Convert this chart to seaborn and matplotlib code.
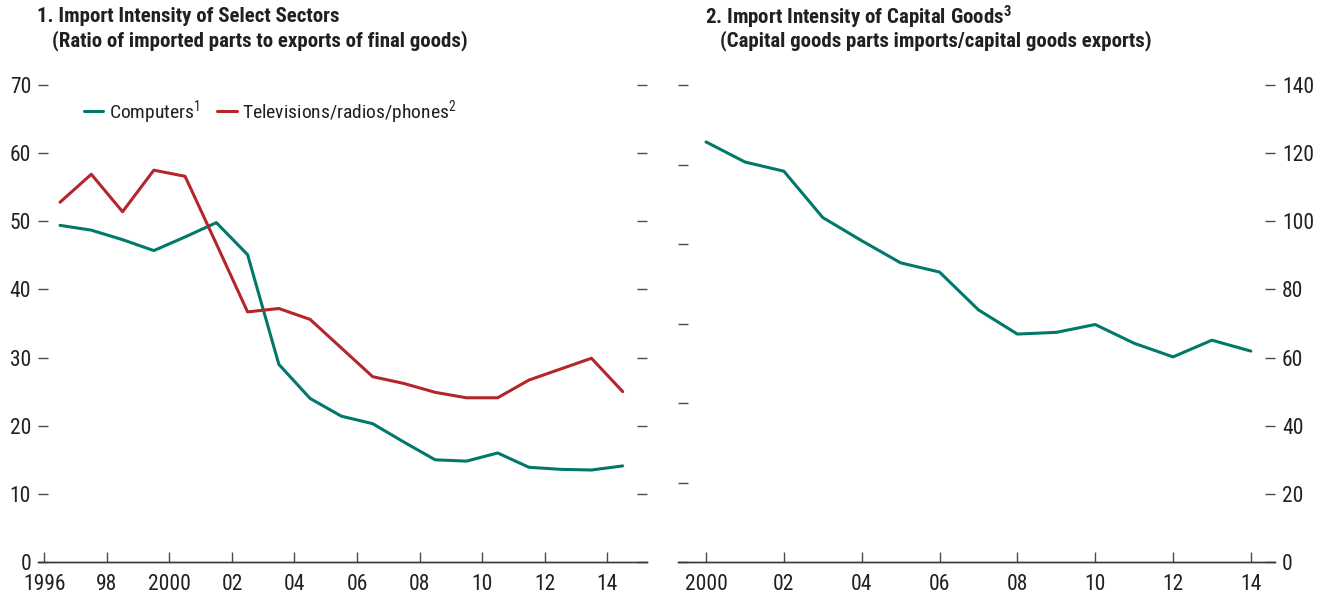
import numpy as np
import pandas as pd
import matplotlib
matplotlib.use("Agg")
import matplotlib.pyplot as plt
import seaborn as sns

# ---------------- data ----------------
years_left = [1996.5, 1997.5, 1998.5, 1999.5, 2000.5, 2001.5, 2002.5, 2003.5, 2004.5, 2005.5,
              2006.5, 2007.5, 2008.5, 2009.5, 2010.5, 2011.5, 2012.5, 2013.5, 2014.5]
computers = [49.4, 48.7, 47.3, 45.7, 47.7, 49.8, 45.1, 29.0, 24.0, 21.4,
             20.3, 17.6, 15.0, 14.8, 16.0, 13.9, 13.6, 13.5, 14.1]
tv_radio_phones = [52.8, 56.9, 51.4, 57.5, 56.6, 46.7, 36.7, 37.2, 35.6, 31.4,
                   27.2, 26.2, 24.9, 24.1, 24.1, 26.7, 28.3, 29.9, 25.0]

years_right = list(range(2000, 2015))
capital_goods = [123.3, 117.4, 114.7, 101.1, 94.3, 87.8, 85.1, 74.0, 66.9, 67.4,
                 69.7, 64.2, 60.2, 65.1, 61.9]

left_xticks = [1996, 1998, 2000, 2002, 2004, 2006, 2008, 2010, 2012, 2014]
left_xlabels = ["1996", "98", "2000", "02", "04", "06", "08", "10", "12", "14"]
right_xticks = [2000, 2002, 2004, 2006, 2008, 2010, 2012, 2014]
right_xlabels = ["2000", "02", "04", "06", "08", "10", "12", "14"]
left_yticks = [0, 10, 20, 30, 40, 50, 60, 70]
right_yticks = [0, 20, 40, 60, 80, 100, 120, 140]

series_names = ["Computers$^1$", "Televisions/radios/phones$^2$"]
GREEN = "#00796A"
RED = "#B3262C"

# ---------------- style ----------------
sns.set_theme(style="white")
FONT = "Roboto Condensed"
plt.rcParams["font.family"] = [FONT, "DejaVu Sans"]
plt.rcParams["mathtext.fontset"] = "custom"
plt.rcParams["mathtext.rm"] = FONT
plt.rcParams["mathtext.it"] = FONT
plt.rcParams["mathtext.bf"] = f"{FONT}:bold"
TXT = "#231F20"
FS_LEG = 14
FS_TICK = 15.5
FS_TITLE = 15

W, H = 1332, 598
fig = plt.figure(figsize=(W / 100, H / 100), dpi=100)

def ax_rect(x0, x1, ytop, ybot):
    return [x0 / W, 1 - ybot / H, (x1 - x0) / W, (ybot - ytop) / H]

ax1 = fig.add_axes(ax_rect(38, 647, 85, 562))
ax2 = fig.add_axes(ax_rect(678, 1275, 85, 562))

# ---------------- left panel ----------------
df_left = pd.DataFrame({
    "year": years_left * 2,
    "value": computers + tv_radio_phones,
    "series": [series_names[0]] * len(years_left) + [series_names[1]] * len(years_left),
})
sns.lineplot(data=df_left, x="year", y="value", hue="series", hue_order=series_names,
             palette=[GREEN, RED], linewidth=2.2, ax=ax1, legend=True)
ax1.set_xlim(1995.795, 2015.277)
ax1.set_ylim(0, 70)
ax1.set_xticks(left_xticks)
ax1.set_xticklabels(left_xlabels)
ax1.set_yticks(left_yticks)
ax1.set_xlabel("")
ax1.set_ylabel("")
leg = ax1.legend(loc="center left", bbox_to_anchor=(0.062, 0.943), ncol=2, frameon=False,
                 fontsize=FS_LEG, handlelength=1.0, handletextpad=0.3, columnspacing=0.9,
                 borderaxespad=0)
for t in leg.get_texts():
    t.set_color(TXT)

# mirrored right ticks (no labels)
ax1r = ax1.twinx()
ax1r.set_ylim(0, 70)
ax1r.set_yticks(left_yticks)
ax1r.set_yticklabels([])

# ---------------- right panel ----------------
df_right = pd.DataFrame({"year": years_right, "value": capital_goods})
sns.lineplot(data=df_right, x="year", y="value", color=GREEN, linewidth=2.2, ax=ax2)
ax2.set_xlim(1999.28, 2014.62)
ax2.set_ylim(0, 140)
ax2.set_xticks(right_xticks)
ax2.set_xticklabels(right_xlabels)
ax2.set_xlabel("")
ax2.set_ylabel("")
ax2.set_yticks(np.linspace(0, 140, 7))
ax2.set_yticklabels([])
ax2r = ax2.twinx()
ax2r.set_ylim(0, 140)
ax2r.set_yticks(right_yticks)

# ---------------- axes styling ----------------
for a in (ax1, ax1r, ax2, ax2r):
    for s in ("top", "left", "right"):
        a.spines[s].set_visible(False)
    a.spines["bottom"].set_color("#3A3A3A")
    a.spines["bottom"].set_linewidth(1.0)
    a.tick_params(axis="both", which="major", direction="in", length=7, width=1.0,
                  color="#4A4A4A", labelsize=FS_TICK, labelcolor=TXT)
    a.tick_params(axis="x", pad=9)
    a.tick_params(axis="y", pad=5)
    a.set_facecolor("none")

ax1.tick_params(axis="y", left=True, right=False)
ax1r.tick_params(axis="y", right=True, left=False)
ax2.tick_params(axis="y", left=True, right=False)
ax2r.tick_params(axis="y", right=True, left=False)
ax1.tick_params(axis="x", bottom=True, top=False)
ax2.tick_params(axis="x", bottom=True, top=False)

# ---------------- titles ----------------
tkw = dict(fontsize=FS_TITLE, fontweight="bold", color=TXT, va="center", ha="left")
fig.text(37 / W, 1 - 17 / H, "1. Import Intensity of Select Sectors", **tkw)
fig.text(52 / W, 1 - 41 / H, "(Ratio of imported parts to exports of final goods)", **tkw)
fig.text(705 / W, 1 - 17 / H, "2. Import Intensity of Capital Goods$^\\mathbf{3}$", **tkw)
fig.text(720 / W, 1 - 41 / H, "(Capital goods parts imports/capital goods exports)", **tkw)

fig.savefig("out.png", dpi=100)
